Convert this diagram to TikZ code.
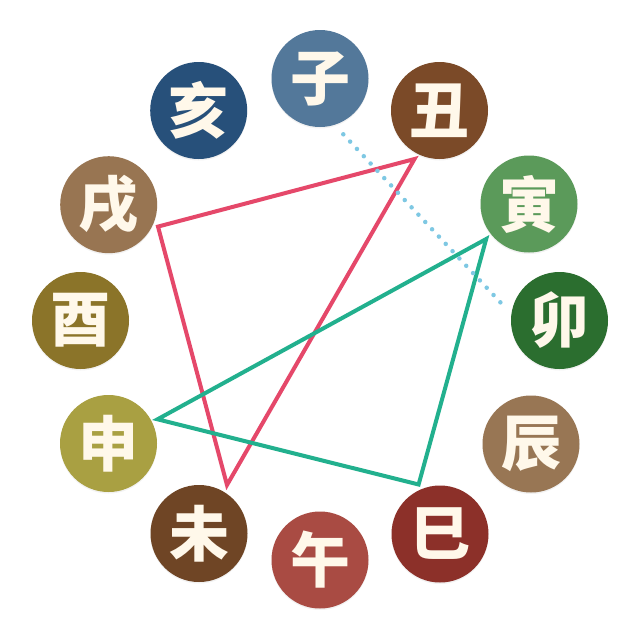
\documentclass[tikz,border=0pt]{standalone}
\usepackage{fontspec}
\newfontfamily\cjk{Noto Sans CJK SC}
\usetikzlibrary{shadows}
\definecolor{cZi}{HTML}{53789A}
\definecolor{cChou}{HTML}{7B4A28}
\definecolor{cYin}{HTML}{5B9A5A}
\definecolor{cMao}{HTML}{2B6E2F}
\definecolor{cChen}{HTML}{987654}
\definecolor{cSi}{HTML}{8C3029}
\definecolor{cWu}{HTML}{A94B43}
\definecolor{cWei}{HTML}{6F4525}
\definecolor{cShen}{HTML}{A9A042}
\definecolor{cYou}{HTML}{8B7429}
\definecolor{cXu}{HTML}{987552}
\definecolor{cHai}{HTML}{27507A}
\definecolor{txt}{HTML}{FFF8EA}
\definecolor{redln}{HTML}{E5486A}
\definecolor{grnln}{HTML}{22B08E}
\definecolor{dotln}{HTML}{7EC8E3}
\tikzset{
  sign/.style={circle, minimum size=97pt, inner sep=0pt, text=txt,
    font=\cjk\bfseries\fontsize{60}{60}\selectfont,
    drop shadow={opacity=0.1, shadow xshift=0pt, shadow yshift=-1.5pt}},
  redtri/.style={draw=redln, line width=4pt, line join=miter},
  grntri/.style={draw=grnln, line width=4pt, line join=miter},
  dotted line/.style={draw=dotln, line width=4.5pt, line cap=round, dash pattern=on 0pt off 10pt}
}
\begin{document}
\begin{tikzpicture}[x=1pt,y=-1pt]
\fill[white] (0,0) rectangle (640,640);
\useasboundingbox (0,0) rectangle (640,640);
\node[sign, fill=cZi]   (zi)   at (320,78.5)  {子};
\node[sign, fill=cChou] (chou) at (439.5,110.5) {丑};
\node[sign, fill=cYin]  (yin)  at (529,204)   {寅};
\node[sign, fill=cMao]  (mao)  at (559.5,320.5) {卯};
\node[sign, fill=cChen] (chen) at (531,444)   {辰};
\node[sign, fill=cSi]   (si)   at (440,534)   {巳};
\node[sign, fill=cWu]   (wu)   at (320,560)   {午};
\node[sign, fill=cWei]  (wei)  at (199,533.5) {未};
\node[sign, fill=cShen] (shen) at (108.5,443.5) {申};
\node[sign, fill=cYou]  (you)  at (80.5,320.5) {酉};
\node[sign, fill=cXu]   (xu)   at (108.7,204.7) {戌};
\node[sign, fill=cHai]  (hai)  at (198.7,110.5) {亥};
% triangle vertices
\coordinate (rChou) at (414.5,159);
\coordinate (rXu)   at (158,226.6);
\coordinate (rWei)  at (227,485);
\coordinate (gYin)  at (486.2,239);
\coordinate (gShen) at (157.5,419.3);
\coordinate (gSi)   at (418.6,484.5);
\coordinate (dZi)   at (343.3,134.3);
\coordinate (dMao)  at (501,303);
\draw[redtri] (rChou) -- (rXu) -- (rWei) -- cycle;
\draw[grntri] (gYin) -- (gShen) -- (gSi) -- cycle;
\draw[dotted line] (dZi) -- (dMao);
\end{tikzpicture}
\end{document}
